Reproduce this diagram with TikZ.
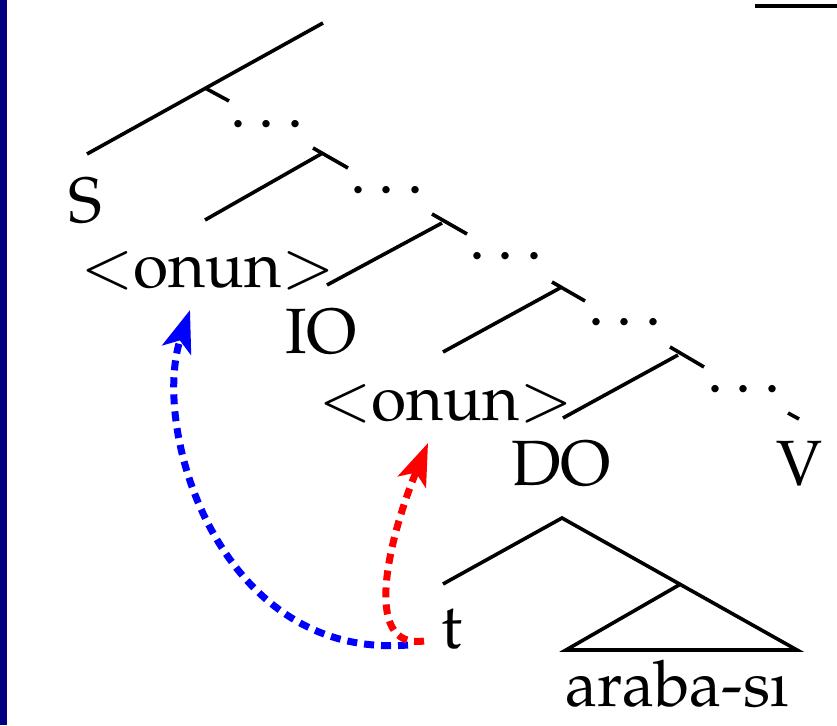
\documentclass[tikz,border=0pt]{standalone}
\usepackage[T1]{fontenc}
\usepackage{mathpazo}
\usetikzlibrary{arrows.meta}
\definecolor{navybar}{RGB}{0,0,128}
\tikzset{
  branch/.style={line width=3.6pt, line cap=butt},
  lbl/.style={inner sep=0pt, anchor=base west, font=\fontsize{64}{70}\selectfont},
  dots/.style={inner sep=0pt, anchor=base, font=\fontsize{64}{70}\selectfont},
  movearrow/.style={line width=7pt, dash pattern=on 10pt off 7pt,
    -{Stealth[length=42pt,width=30pt,inset=10pt]}}
}
\begin{document}
\begin{tikzpicture}[x=1pt,y=-1pt]
\useasboundingbox (0,0) rectangle (837,725);
\fill[navybar] (0,0) rectangle (7,725);
\draw[line width=3.6pt] (755,6) -- (837,6);
% labels
\node[lbl] (S) at (68,222) {S};
\node[lbl] (on1) at (80,287) {$<$onun$>$};
\node[lbl] (IO) at (285,353) {IO};
\node[lbl] (on2) at (318,420) {$<$onun$>$};
\node[lbl] (DO) at (511,485) {DO};
\node[lbl] (V) at (776,485) {V};
\node[lbl] (t) at (441,648) {t};
\node[lbl] (ar) at (565,706) {araba-s\i};
\node[dots] (d1) at (267,127) {$\ldots$};
\node[dots] (d2) at (387,193) {$\ldots$};
\node[dots] (d3) at (506,259) {$\ldots$};
\node[dots] (d4) at (625,325) {$\ldots$};
\node[dots] (d5) at (744,392) {$\ldots$};
% branch points
\coordinate (top) at (323,23);
\coordinate (Sl) at (87,154);
\coordinate (n1) at (205,88);
\coordinate (n1r) at (229,101);
\coordinate (n2a) at (313,148);
\coordinate (n2) at (321,154);
\coordinate (n2r) at (348,168);
\coordinate (l2) at (205,220);
\coordinate (n3a) at (432,214);
\coordinate (n3) at (442,223);
\coordinate (n3r) at (467,234);
\coordinate (l3) at (327,285);
\coordinate (n4a) at (552,282);
\coordinate (n4) at (560,288);
\coordinate (n4r) at (585,301);
\coordinate (l4) at (443,352);
\coordinate (n5a) at (670,347);
\coordinate (n5) at (678,355);
\coordinate (n5r) at (704,367);
\coordinate (l5) at (563,418);
\coordinate (va) at (788,413);
\coordinate (vb) at (799,419);
\coordinate (apex) at (562,518);
\coordinate (tl) at (443,584);
\coordinate (mid) at (679,585);
\coordinate (br) at (797,650);
\coordinate (bl) at (566,650);
% tree
\draw[branch] (Sl) -- (top);
\draw[branch] (n1) -- (n1r);
\draw[branch] (l2) -- (n2);
\draw[branch] (n2a) -- (n2r);
\draw[branch] (l3) -- (n3);
\draw[branch] (n3a) -- (n3r);
\draw[branch] (l4) -- (n4);
\draw[branch] (n4a) -- (n4r);
\draw[branch] (l5) -- (n5);
\draw[branch] (n5a) -- (n5r);
\draw[branch] (va) -- (vb);
\draw[branch] (tl) -- (apex) -- (br) -- (bl) -- (mid);
% movement arrows
\coordinate (bs) at (408,645);
\coordinate (bt) at (190,310);
\coordinate (rs) at (424,641);
\coordinate (rt) at (428,443);
\draw[movearrow, blue] (bs) .. controls (220,660) and (150,430) .. (bt);
\draw[movearrow, red] (rs) .. controls (360,650) and (390,535) .. (rt);
\end{tikzpicture}
\end{document}
